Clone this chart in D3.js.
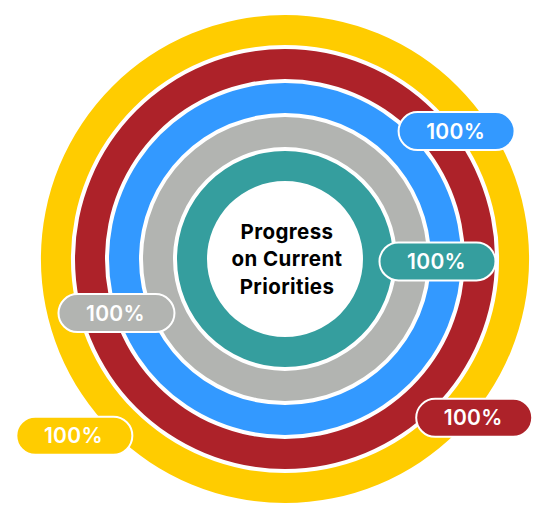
<!DOCTYPE html>
<html>
<head>
<meta charset="utf-8">
<script src="https://cdn.jsdelivr.net/npm/d3@7"></script>
<style>
  html, body { margin: 0; padding: 0; background: #ffffff; }
  svg { display: block; }
  text { font-variant-ligatures: none; }
</style>
</head>
<body>
<svg id="chart" width="550" height="520"></svg>
<script>
// ---- data (outer ring first) ----
const categories = ["Priority 1", "Priority 2", "Priority 3", "Priority 4", "Priority 5"];
const values = [100, 100, 100, 100, 100];
const maxValue = 100;
const colors = ["#FFCC00", "#AD2229", "#3399FF", "#B2B4B1", "#359E9E"];
const centerLines = ["Progress", "on Current", "Priorities"];
// label placement (angle in degrees clockwise from 12 o'clock, distance from centre)
const labelAngles = [230, 130, 53.3, 252.2, 90.9];
const labelDistances = [275, 247, 214, 177, 152.5];

// ---- layout ----
const width = 550, height = 520;
const cx = 285, cy = 259;
const innerR = 78, outerR = 244;

const svg = d3.select("#chart");
const g = svg.append("g").attr("transform", `translate(${cx},${cy})`);

const rScale = d3.scaleBand()
  .domain(categories.slice().reverse())
  .range([innerR, outerR])
  .paddingInner(4 / 34)
  .paddingOuter(0);

const angle = d3.scaleLinear().domain([0, maxValue]).range([0, 2 * Math.PI]);

const arc = d3.arc()
  .innerRadius(d => rScale(d.cat))
  .outerRadius(d => rScale(d.cat) + rScale.bandwidth())
  .startAngle(0)
  .endAngle(d => angle(d.value));

const rows = categories.map((c, i) => ({ cat: c, value: values[i], color: colors[i], i }));

g.selectAll("path.ring")
  .data(rows)
  .join("path")
  .attr("class", "ring")
  .attr("d", arc)
  .attr("fill", d => d.color);

// centre title
const lineH = 27.5;
g.append("text")
  .attr("text-anchor", "middle")
  .attr("font-family", "Inter, 'Noto Sans', sans-serif")
  .attr("font-weight", 700)
  .attr("font-size", 20.5)
  .attr("letter-spacing", 0.4)
  .attr("fill", "#000")
  .selectAll("tspan")
  .data(centerLines)
  .join("tspan")
  .attr("x", 2)
  .attr("y", (d, i) => (i - 1) * lineH + 7)
  .text(d => d);

// value pills
const pillW = 116, pillH = 38;
const labels = g.selectAll("g.pill")
  .data(rows)
  .join("g")
  .attr("class", "pill")
  .attr("transform", d => {
    const a = labelAngles[d.i] * Math.PI / 180;
    const r = labelDistances[d.i];
    return `translate(${r * Math.sin(a)},${-r * Math.cos(a)})`;
  });

labels.append("rect")
  .attr("x", -pillW / 2)
  .attr("y", -pillH / 2)
  .attr("width", pillW)
  .attr("height", pillH)
  .attr("rx", pillH / 2)
  .attr("fill", d => d.color)
  .attr("stroke", "#ffffff")
  .attr("stroke-width", 2);

labels.append("text")
  .attr("text-anchor", "middle")
  .attr("dy", "0.36em")
  .attr("x", -1)
  .attr("font-family", "Inter, 'Noto Sans', sans-serif")
  .attr("font-weight", 600)
  .attr("font-size", 21)
  .attr("letter-spacing", 0.3)
  .attr("fill", "#ffffff")
  .text(d => d3.format("d")(d.value) + "%");
</script>
</body>
</html>
